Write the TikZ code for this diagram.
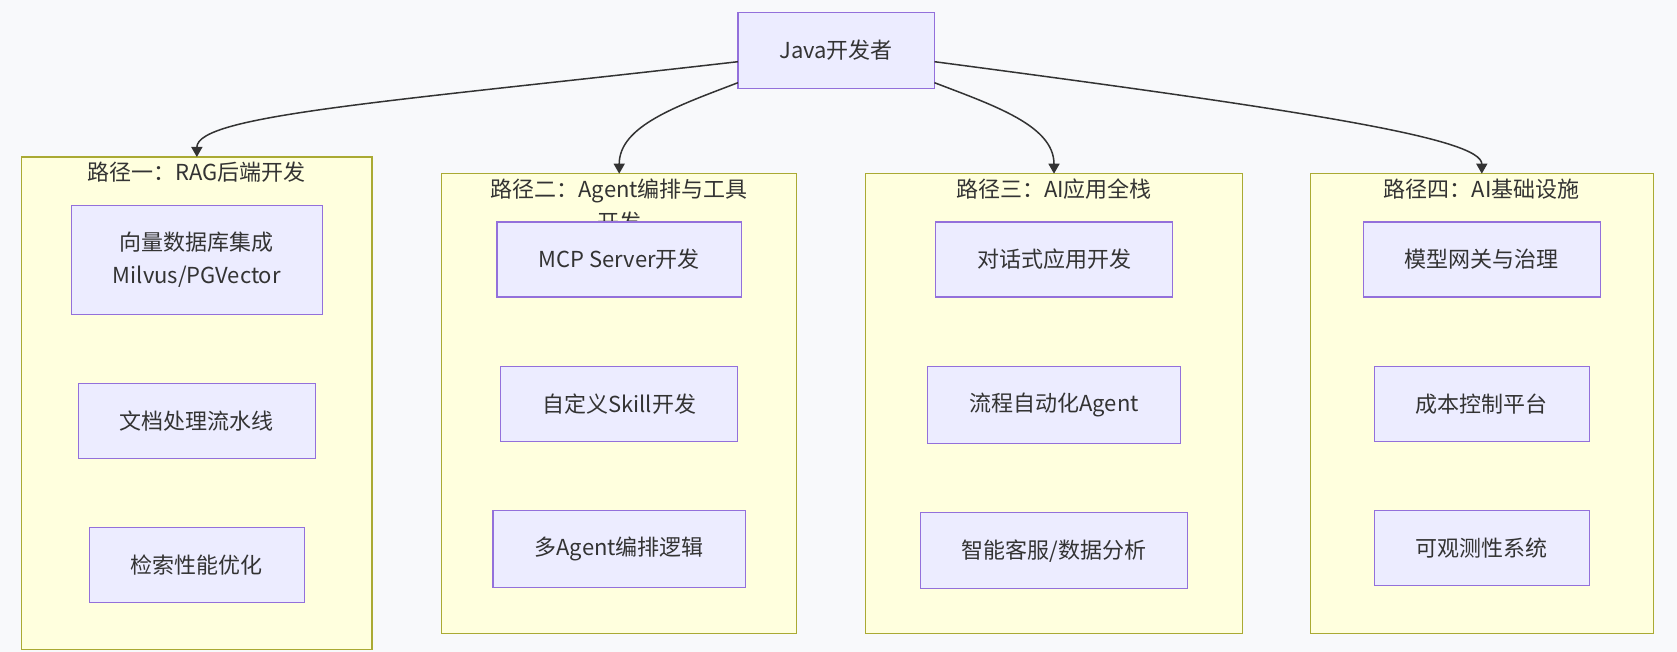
\documentclass[tikz,border=0pt]{standalone}
\usepackage{fontspec}
\setmainfont{Noto Sans CJK SC}
\usetikzlibrary{arrows.meta, positioning}

\definecolor{bgcol}{RGB}{248,249,251}
\definecolor{boxfill}{HTML}{ECECFF}
\definecolor{boxline}{HTML}{9370DB}
\definecolor{grpfill}{HTML}{FFFFDE}
\definecolor{grpline}{HTML}{AAAA33}
\definecolor{ink}{HTML}{333333}

\begin{document}
\begin{tikzpicture}[x=1pt, y=-1pt,
	task/.style={draw=boxline, fill=boxfill, line width=1.3pt, text=ink, outer sep=0pt,
		inner xsep=41.5pt, inner ysep=26.6pt, minimum height=75pt, align=center,
		font=\fontsize{22}{33}\selectfont},
	group/.style={draw=grpline, fill=grpfill, line width=1.3pt, outer sep=0pt},
	grptitle/.style={text=ink, inner sep=0pt, align=center,
		font=\fontsize{22}{33}\selectfont},
	flow/.style={draw=ink, line width=1.5pt, -{Triangle[length=10pt, width=11pt]}}]

	\fill[bgcol] (0,0) rectangle (1677,652);

	\node[group, minimum width=350.3pt, minimum height=492.5pt] (g1) at (196.85,403.25) {};
	\node[group, minimum width=355pt, minimum height=460pt] (g2) at (619.2,403.7) {};
	\node[group, minimum width=376.6pt, minimum height=460pt] (g3) at (1054,403.7) {};
	\node[group, minimum width=343pt, minimum height=460pt] (g4) at (1481.8,403.7) {};

	\node[grptitle, below=5pt of g1.north] (t1) {路径一：RAG后端开发};
	\node[grptitle, below=5pt of g2.north] (t2) {路径二：Agent编排与工具\\开发};
	\node[grptitle, below=5pt of g3.north] (t3) {路径三：AI应用全栈};
	\node[grptitle, below=5pt of g4.north] (t4) {路径四：AI基础设施};

	\node[task, below=48.7pt of g1.north] (a1) {向量数据库集成\\Milvus/PGVector};
	\node[task, below=69pt of a1] (a2) {文档处理流水线};
	\node[task, below=69pt of a2] (a3) {检索性能优化};

	\node[task, below=48.3pt of g2.north] (b1) {MCP Server开发};
	\node[task, below=69.5pt of b1] (b2) {自定义Skill开发};
	\node[task, below=69pt of b2] (b3) {多Agent编排逻辑};

	\node[task, below=48.3pt of g3.north] (c1) {对话式应用开发};
	\node[task, below=69.5pt of c1] (c2) {流程自动化Agent};
	\node[task, below=69pt of c2] (c3) {智能客服/数据分析};

	\node[task, below=48.3pt of g4.north] (d1) {模型网关与治理};
	\node[task, below=69.5pt of d1] (d2) {成本控制平台};
	\node[task, below=69pt of d2] (d3) {可观测性系统};

	\node[task, minimum width=195pt, minimum height=75.6pt] (dev) at (836.2,50.5) {Java开发者};

	\draw[flow] ([yshift=-11.2pt]dev.west) .. controls +(-348,40) and +(0,-42) .. (g1.north);
	\draw[flow] ([yshift=-32.2pt]dev.west) .. controls +(-60,23) and +(0,-48) .. (g2.north);
	\draw[flow] ([yshift=-32.2pt]dev.east) .. controls +(60,23) and +(0,-48) .. (g3.north);
	\draw[flow] ([yshift=-11.2pt]dev.east) .. controls +(380,50) and +(0,-35) .. (g4.north);

\end{tikzpicture}
\end{document}
